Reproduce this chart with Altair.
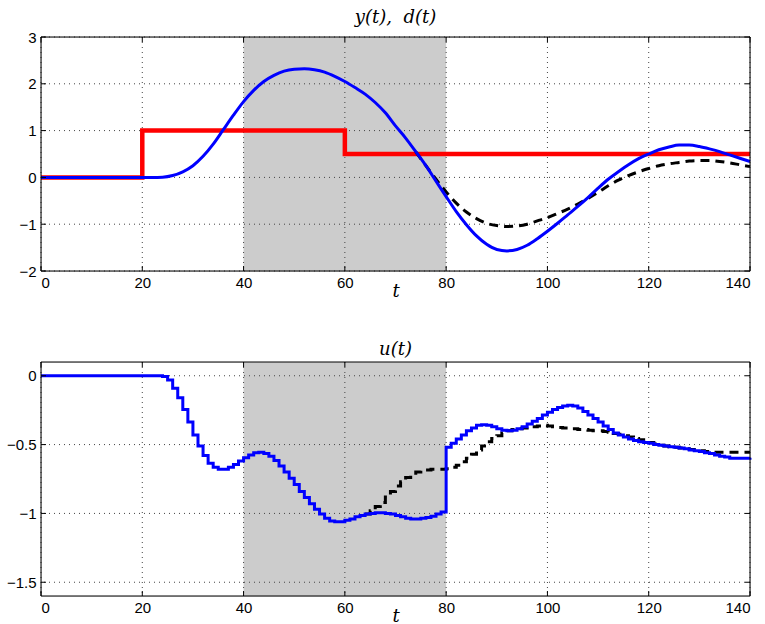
import altair as alt
import pandas as pd

W, H = 709, 234

# ---------------- data ----------------
x_ticks = [0, 20, 40, 60, 80, 100, 120, 140]
y_ticks_top = [-2, -1, 0, 1, 2, 3]
y_ticks_bot = [-1.5, -1, -0.5, 0]
band_start = [40]
band_end = [80]

# disturbance d(t) (step)
d_t = [0, 20, 60, 140]
d_v = [0, 1, 0.5, 0.5]

# output y(t), solid blue, sampled every 2 time units
y_t = list(range(0, 141, 2))
y_blue = [0, 0, 0, 0, 0, 0, 0, 0, 0, 0, 0, 0,
          0.005, 0.04, 0.12, 0.25, 0.45, 0.71, 1.02, 1.33, 1.62, 1.86,
          2.05, 2.18, 2.27, 2.31, 2.32, 2.30, 2.25, 2.16, 2.05, 1.92,
          1.78, 1.60, 1.38, 1.10, 0.84, 0.55, 0.25, -0.08, -0.41, -0.73,
          -1.01, -1.25, -1.43, -1.54, -1.57, -1.54, -1.45, -1.31, -1.15, -0.98,
          -0.80, -0.62, -0.43, -0.23, -0.04, 0.12, 0.27, 0.40, 0.50, 0.59,
          0.65, 0.69, 0.69, 0.66, 0.61, 0.55, 0.48, 0.41, 0.34]

# output y(t), dashed black (differs from t = 74 on)
yd_t = list(range(74, 141, 2))
y_dash = [0.55, 0.25, -0.04, -0.31, -0.55, -0.74, -0.88, -0.98, -1.03, -1.05,
          -1.04, -1.00, -0.93, -0.86, -0.77, -0.68, -0.57, -0.45, -0.32, -0.18,
          -0.06, 0.04, 0.12, 0.19, 0.25, 0.29, 0.32, 0.35, 0.36, 0.36,
          0.34, 0.31, 0.27, 0.23]

# input u(t), solid blue, sample period 1
u_t = list(range(0, 141))
u_blue = [0, 0, 0, 0, 0, 0, 0, 0, 0, 0, 0, 0, 0, 0, 0, 0, 0, 0, 0, 0, 0, 0, 0, 0,
          -0.005, -0.03, -0.09, -0.16, -0.245, -0.335, -0.43, -0.51, -0.58, -0.635,
          -0.665, -0.68, -0.68, -0.665, -0.645, -0.62, -0.595, -0.575, -0.56, -0.555,
          -0.565, -0.585, -0.615, -0.655, -0.70, -0.745, -0.79, -0.84, -0.885, -0.93,
          -0.97, -1.005, -1.035, -1.055, -1.06, -1.06, -1.05, -1.04, -1.025, -1.015,
          -1.005, -1.0, -0.995, -0.995, -1.0, -1.005, -1.015, -1.025, -1.035, -1.04,
          -1.04, -1.035, -1.03, -1.02, -1.005, -0.99,
          -0.52, -0.49, -0.46, -0.43, -0.40, -0.38, -0.36, -0.355, -0.36, -0.37,
          -0.385, -0.395, -0.40, -0.395, -0.385, -0.37, -0.35, -0.33, -0.31, -0.285,
          -0.265, -0.245, -0.23, -0.22, -0.215, -0.22, -0.235, -0.26, -0.285, -0.31,
          -0.335, -0.365, -0.39, -0.415, -0.43, -0.445, -0.46, -0.47, -0.48, -0.485,
          -0.49, -0.5, -0.505, -0.51, -0.515, -0.52, -0.525, -0.53, -0.54, -0.545,
          -0.55, -0.56, -0.565, -0.575, -0.585, -0.59, -0.6, -0.6, -0.6, -0.6, -0.595]

# input u(t), dashed black (differs from t = 64 on)
ud_t = list(range(64, 141))
u_dash = [-1.005, -0.98, -0.95, -0.92, -0.88, -0.84, -0.80, -0.77, -0.74, -0.72,
          -0.70, -0.69, -0.685, -0.68, -0.68, -0.68,
          -0.675, -0.665, -0.65, -0.625, -0.60, -0.57, -0.54, -0.51, -0.48, -0.455,
          -0.435, -0.415, -0.40, -0.39, -0.385, -0.38, -0.375, -0.37, -0.365, -0.36,
          -0.365, -0.37, -0.375, -0.38, -0.385, -0.385, -0.39, -0.39, -0.395, -0.40,
          -0.40, -0.405, -0.41, -0.42, -0.425, -0.435, -0.445, -0.455, -0.465, -0.475,
          -0.485, -0.495, -0.505, -0.51, -0.515, -0.52, -0.525, -0.53, -0.535, -0.54,
          -0.545, -0.55, -0.55, -0.555, -0.555, -0.555, -0.555, -0.555, -0.555, -0.555,
          -0.555]

LABEL_FONT = "Liberation Sans"
SERIF = "DejaVu Serif"
MINUS_EXPR = "replace(datum.label, '-', '\u2212')"


def panel(title, ydomain, yticks, series):
    xs = alt.Scale(domain=[0, 140], nice=False, zero=False)
    ys = alt.Scale(domain=ydomain, nice=False, zero=False)
    xaxis = alt.Axis(values=x_ticks, grid=False, ticks=False, domain=False,
                     labelFont=LABEL_FONT, labelFontSize=15, labelColor="black",
                     labelPadding=4, format="d", title="t", titleFont=SERIF,
                     titleFontStyle="italic", titleFontWeight="normal",
                     titleFontSize=18, titleColor="black", titleY=25,
                     titleBaseline="alphabetic")
    yaxis = alt.Axis(values=yticks, grid=False, ticks=False, domain=False,
                     labelFont=LABEL_FONT, labelFontSize=15, labelColor="black",
                     labelPadding=5, format=".2~f", labelExpr=MINUS_EXPR,
                     title=None)

    def X(f):
        return alt.X(f"{f}:Q", scale=xs, axis=xaxis)

    def Y(f):
        return alt.Y(f"{f}:Q", scale=ys, axis=yaxis)

    band = alt.Chart(pd.DataFrame({"t0": band_start, "t1": band_end})).mark_rect(
        color="#cccccc").encode(x=X("t0"), x2="t1", y=alt.value(0), y2=alt.value(H))

    xt = pd.DataFrame({"t": x_ticks})
    yt = pd.DataFrame({"v": yticks})
    gridx = alt.Chart(xt).mark_rule(color="#444444", strokeDash=[1, 4],
                                    strokeWidth=1).encode(x=X("t"))
    gridy = alt.Chart(yt).mark_rule(color="#444444", strokeDash=[1, 4],
                                    strokeWidth=1).encode(y=Y("v"))

    layers = [band, gridx, gridy]
    for tt, vv, color, width, dash, interp in series:
        mk = dict(color=color, strokeWidth=width, interpolate=interp)
        if dash:
            mk["strokeDash"] = dash
        layers.append(alt.Chart(pd.DataFrame({"t": tt, "v": vv})).mark_line(**mk)
                      .encode(x=X("t"), y=Y("v")))

    tb = alt.Chart(xt).mark_rule(color="black", strokeWidth=1).encode(
        x=X("t"), y=alt.value(H), y2=alt.value(H - 5))
    tt_ = alt.Chart(xt).mark_rule(color="black", strokeWidth=1).encode(
        x=X("t"), y=alt.value(0), y2=alt.value(5))
    tl = alt.Chart(yt).mark_rule(color="black", strokeWidth=1).encode(
        y=Y("v"), x=alt.value(0), x2=alt.value(5))
    tr = alt.Chart(yt).mark_rule(color="black", strokeWidth=1).encode(
        y=Y("v"), x=alt.value(W - 5), x2=alt.value(W))
    frame = alt.Chart(alt.Data(values=[{"a": 1}])).mark_rect(
        fillOpacity=0, stroke="black", strokeWidth=1).encode(
        x=alt.value(0), x2=alt.value(W), y=alt.value(0), y2=alt.value(H))
    layers += [tb, tt_, tl, tr, frame]

    return alt.layer(*layers).properties(
        width=W, height=H,
        title=alt.TitleParams(title, font=SERIF, fontStyle="italic",
                              fontWeight="normal", fontSize=18, color="black",
                              offset=3))


top = panel("y(t),\u00a0 d(t)", [-2, 3], y_ticks_top, [
    (d_t, d_v, "#ff0000", 4.5, None, "step-after"),
    (yd_t, y_dash, "black", 3, [9, 6], "monotone"),
    (y_t, y_blue, "#0000ff", 3, None, "monotone"),
])

bot = panel("u(t)", [-1.6, 0.1], y_ticks_bot, [
    (ud_t, u_dash, "black", 3, [9, 6], "step-after"),
    (u_t, u_blue, "#0000ff", 3, None, "step-after"),
])

chart = alt.vconcat(top, bot, spacing=91, bounds="flush").properties(
    padding={"left": 5, "right": 3, "top": 8, "bottom": 0}
).configure_view(strokeWidth=0).configure(background="white")

chart.save("out.html", embed_options={"renderer": "svg", "actions": False})
